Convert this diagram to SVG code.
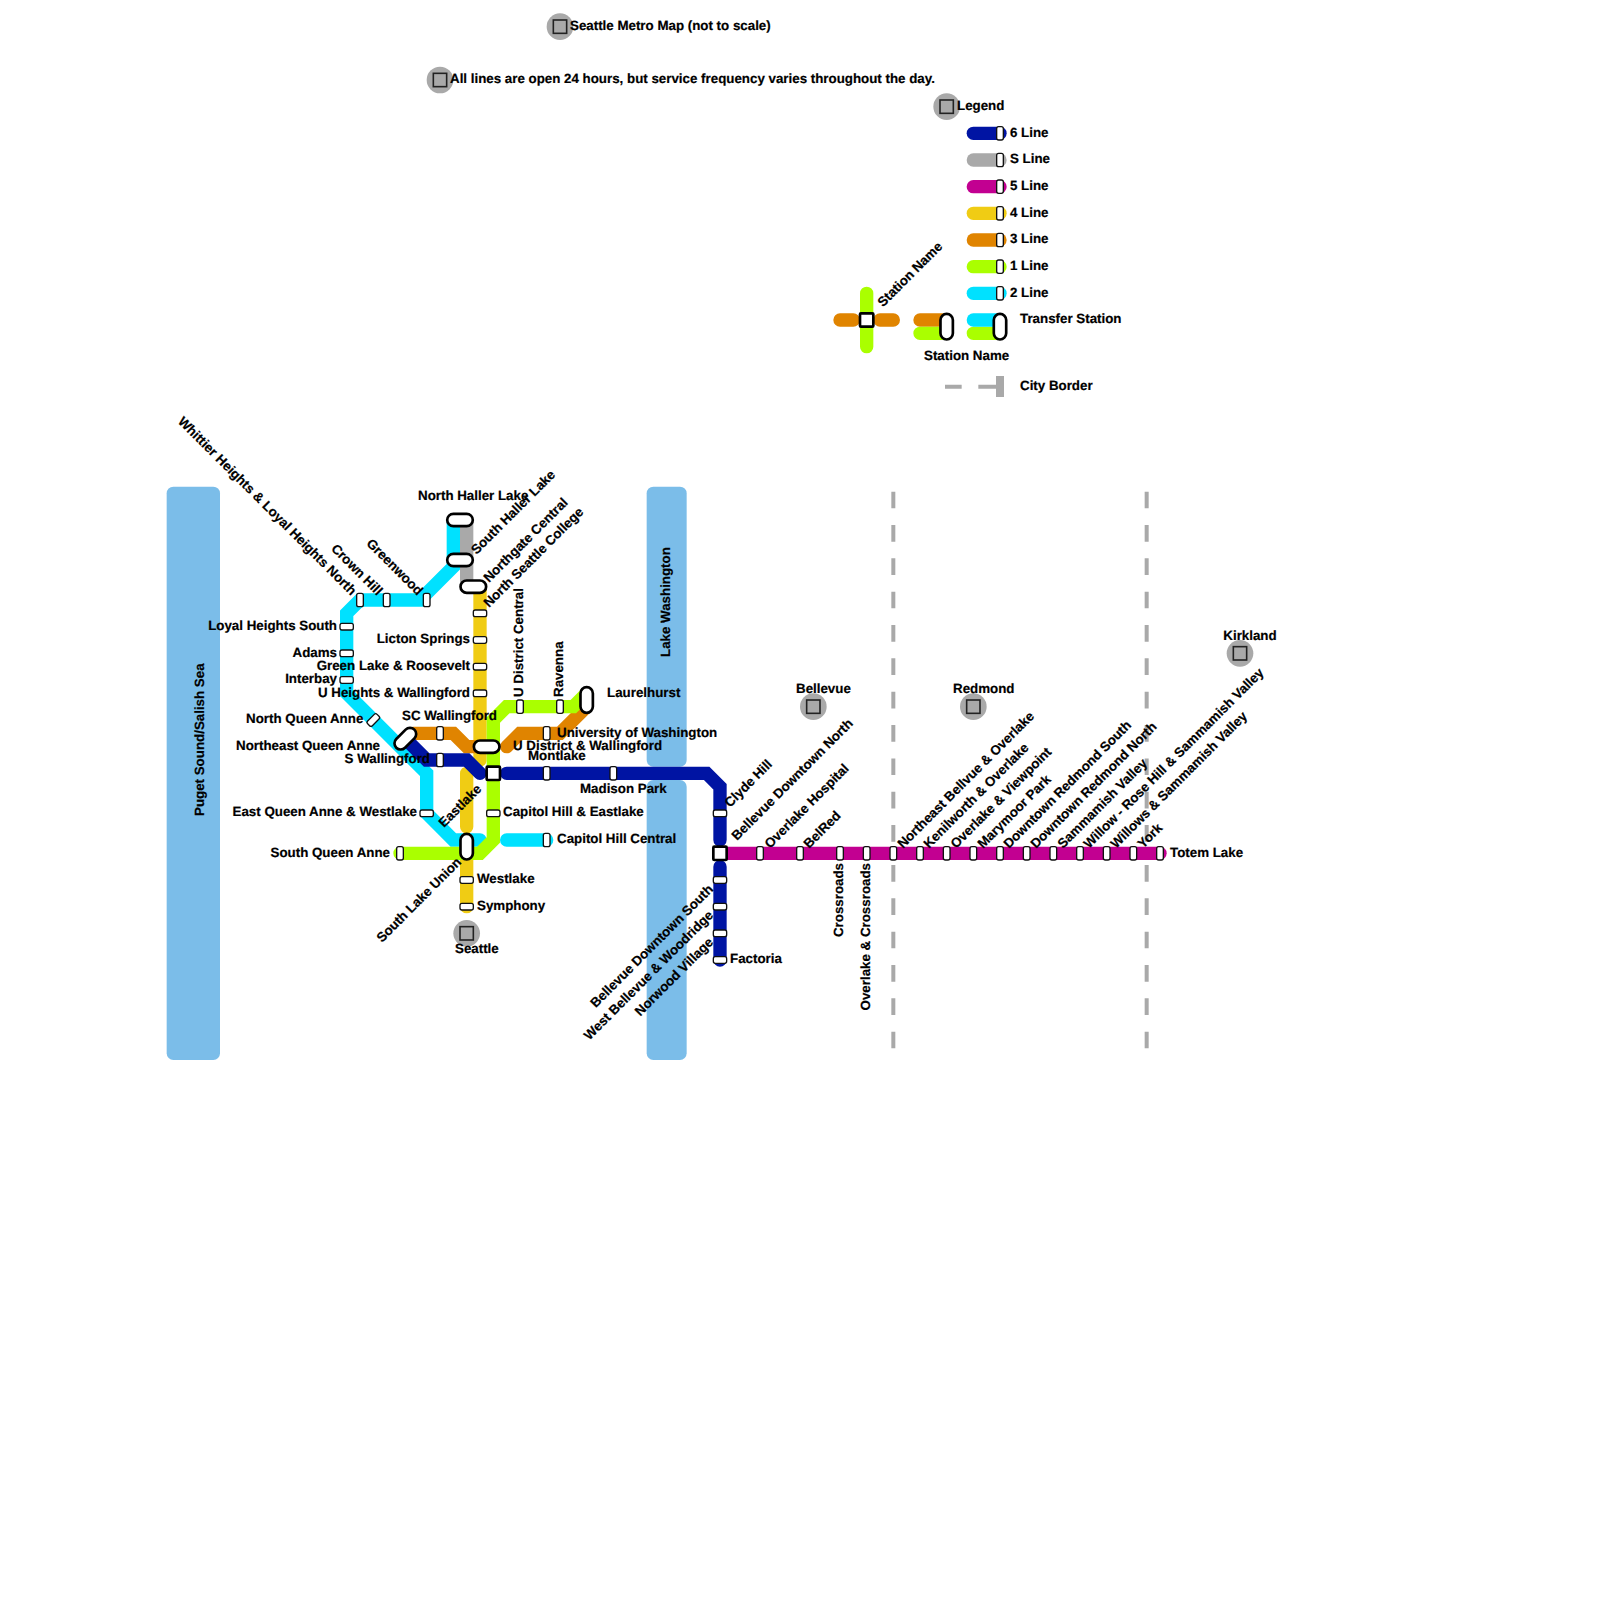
<svg xmlns="http://www.w3.org/2000/svg" width="1600" height="1600" viewBox="0 0 1600 1600">
<style>
text{font-family:"Liberation Sans",Arial,sans-serif;font-weight:bold;font-size:13.33px;fill:#000;stroke:#000;stroke-width:.2;text-rendering:geometricPrecision}
.l{fill:none;stroke-width:13.33;stroke-linecap:round;stroke-linejoin:miter}
.b{stroke:#0014a3}.s{stroke:#a9a9a9}.m{stroke:#c20091}.y{stroke:#f0cc14}.o{stroke:#e08400}.g{stroke:#aaff00}.c{stroke:#00e1ff}
.w{fill:#7bbde9}
.d{stroke:#a9a9a9;stroke-width:4;fill:none}
.st{fill:#fff;stroke:#111;stroke-width:1.33}
.tr{fill:#fff;stroke:#000;stroke-width:2.67}
.ic{fill:#fff;stroke:#000;stroke-width:2.67}
.poi{fill:#a9a9a9}
.pois{fill:#a9a9a9;stroke:#222;stroke-width:1.6}
</style>
<defs>
<rect id="v" class="st" x="-3.33" y="-6.67" width="6.67" height="13.33" rx="2"/>
<rect id="h" class="st" x="-6.67" y="-3.33" width="13.33" height="6.67" rx="2"/>
<rect id="tv" class="tr" x="-6.2" y="-12.8" width="12.4" height="25.6" rx="6.2"/>
<rect id="th" class="tr" x="-12.8" y="-6.2" width="25.6" height="12.4" rx="6.2"/>
<rect id="sq" class="ic" x="-6.67" y="-6.67" width="13.33" height="13.33" rx="1"/>
<g id="p"><circle class="poi" r="13.33"/><rect class="pois" x="-6.67" y="-6.67" width="13.33" height="13.33"/></g>
</defs>
<g id="water">
<rect class="w" x="166.67" y="486.67" width="53.33" height="573.33" rx="6.67"/>
<rect class="w" x="646.67" y="486.67" width="40" height="280" rx="6.67"/>
<rect class="w" x="646.67" y="780" width="40" height="280" rx="6.67"/>
</g>
<g id="connectors">
<path class="d" stroke-dasharray="16.67 16.67" d="M893.33 491.67V845M893.33 865V1048.33M1146.67 491.67V845M1146.67 865V1048.33"/>
<path class="d" d="M945 386.67H961.67M978.33 386.67H996"/>
<path class="s l" d="M466.67 520V586.67" stroke-linecap="butt"/>
<path class="c l" d="M453.33 520V566.67L420 600H360L346.67 613.33V693.33L426.67 773.33V813.33L453.33 840H480M506.67 840H546.67"/>
<path class="y l" d="M480 586.67V760M466.67 773.33V826.67M466.67 860V906.67"/>
<path class="o l" d="M413.33 733.33H453.33L466.67 746.67H480M506.67 746.67L520 733.33H560L586.67 706.67"/>
<path class="g l" d="M400 853.33H480L493.33 840V720L506.67 706.67H573.33L586.67 693.33"/>
<path class="b l" d="M406.67 740L426.67 760H466.67L480 773.33M506.67 773.33H706.67L720 786.67V840M720 866.67V960"/>
<path class="m l" d="M720 853.33H1160"/>
<path class="b l" d="M973.33 133.33H1000"/><path class="s l" d="M973.33 160H1000"/><path class="m l" d="M973.33 186.67H1000"/><path class="y l" d="M973.33 213.33H1000"/><path class="o l" d="M973.33 240H1000"/><path class="g l" d="M973.33 266.67H1000"/><path class="c l" d="M973.33 293.33H1000"/>
<path class="o l" d="M840 320H853.33M880 320H893.33M920 320H946.67"/>
<path class="g l" d="M866.67 293.33V346.67M920 333.33H946.67M973.33 333.33H1000"/>
<path class="c l" d="M973.33 320H1000"/>
<rect x="996" y="376" width="8" height="21" fill="#a9a9a9"/>
</g>
<g id="stations">
<use href="#v" x="360" y="600"/><use href="#v" x="386.67" y="600"/><use href="#v" x="426.67" y="600"/>
<use href="#h" x="346.67" y="626.67"/><use href="#h" x="346.67" y="653.33"/><use href="#h" x="346.67" y="680"/>
<use href="#h" transform="translate(373.33 720) rotate(-45)"/>
<use href="#th" transform="translate(405.33 738.67) rotate(-45)"/>
<use href="#h" x="426.67" y="813.33"/>
<use href="#v" x="400" y="853.33"/>
<use href="#tv" x="466.67" y="846.67"/>
<use href="#h" x="466.67" y="880"/><use href="#h" x="466.67" y="906.67"/>
<use href="#th" x="460" y="520"/><use href="#th" x="460" y="560"/><use href="#th" x="473.33" y="586.67"/>
<use href="#h" x="480" y="613.33"/><use href="#h" x="480" y="640"/><use href="#h" x="480" y="666.67"/><use href="#h" x="480" y="693.33"/>
<use href="#v" x="520" y="706.67"/><use href="#v" x="560" y="706.67"/>
<use href="#tv" x="586.67" y="700"/>
<use href="#v" x="440" y="733.33"/><use href="#v" x="546.67" y="733.33"/>
<use href="#th" x="486.67" y="746.67"/>
<use href="#v" x="440" y="760"/>
<use href="#sq" x="493.33" y="773.33"/>
<use href="#v" x="546.67" y="773.33"/><use href="#v" x="613.33" y="773.33"/>
<use href="#h" x="493.33" y="813.33"/>
<use href="#v" x="546.67" y="840"/>
<use href="#h" x="720" y="813.33"/>
<use href="#sq" x="720" y="853.33"/>
<use href="#h" x="720" y="880"/><use href="#h" x="720" y="906.67"/><use href="#h" x="720" y="933.33"/><use href="#h" x="720" y="960"/>
<use href="#v" x="760" y="853.33"/><use href="#v" x="800" y="853.33"/><use href="#v" x="840" y="853.33"/><use href="#v" x="866.67" y="853.33"/><use href="#v" x="893.33" y="853.33"/><use href="#v" x="920" y="853.33"/><use href="#v" x="946.67" y="853.33"/><use href="#v" x="973.33" y="853.33"/><use href="#v" x="1000" y="853.33"/><use href="#v" x="1026.67" y="853.33"/><use href="#v" x="1053.33" y="853.33"/><use href="#v" x="1080" y="853.33"/><use href="#v" x="1106.67" y="853.33"/><use href="#v" x="1133.33" y="853.33"/><use href="#v" x="1160" y="853.33"/>
<use href="#v" x="1000" y="133.33"/><use href="#v" x="1000" y="160"/><use href="#v" x="1000" y="186.67"/><use href="#v" x="1000" y="213.33"/><use href="#v" x="1000" y="240"/><use href="#v" x="1000" y="266.67"/><use href="#v" x="1000" y="293.33"/>
<use href="#sq" x="866.67" y="320"/><use href="#tv" x="946.67" y="326.67"/><use href="#tv" x="1000" y="326.67"/>
</g>
<g id="pois">
<use href="#p" x="560" y="26.67"/><use href="#p" x="440" y="80"/><use href="#p" x="946.67" y="106.67"/><use href="#p" x="1240" y="653.33"/><use href="#p" x="813.33" y="706.67"/><use href="#p" x="973.33" y="706.67"/><use href="#p" x="466.67" y="933.33"/>
</g>
<g id="labels">
<text x="570" y="30">Seattle Metro Map (not to scale)</text>
<text x="450" y="83.33">All lines are open 24 hours, but service frequency varies throughout the day.</text>
<text x="957" y="110">Legend</text>
<text x="1010" y="136.67">6 Line</text><text x="1010" y="163.33">S Line</text><text x="1010" y="190">5 Line</text><text x="1010" y="216.67">4 Line</text><text x="1010" y="243.33">3 Line</text><text x="1010" y="270">1 Line</text><text x="1010" y="296.67">2 Line</text>
<text x="1020" y="323.33">Transfer Station</text>
<text x="924" y="360">Station Name</text>
<text x="1020" y="390">City Border</text>
<text transform="translate(883 307.5) rotate(-45)">Station Name</text>
<text x="1223.33" y="640">Kirkland</text><text x="796" y="693.33">Bellevue</text><text x="953" y="693.33">Redmond</text><text x="455" y="953.33">Seattle</text>
<text x="337" y="630" text-anchor="end">Loyal Heights South</text>
<text x="337" y="656.67" text-anchor="end">Adams</text>
<text x="337" y="683.33" text-anchor="end">Interbay</text>
<text x="470" y="670" text-anchor="end">Green Lake &amp; Roosevelt</text>
<text x="470" y="696.67" text-anchor="end">U Heights &amp; Wallingford</text>
<text x="470" y="643.33" text-anchor="end">Licton Springs</text>
<text x="363.33" y="723.33" text-anchor="end">North Queen Anne</text>
<text x="380" y="750" text-anchor="end">Northeast Queen Anne</text>
<text x="430" y="763.33" text-anchor="end">S Wallingford</text>
<text x="417" y="816" text-anchor="end">East Queen Anne &amp; Westlake</text>
<text x="390" y="856.67" text-anchor="end">South Queen Anne</text>
<text x="402" y="720">SC Wallingford</text>
<text x="418" y="500">North Haller Lake</text>
<text x="607" y="696.67">Laurelhurst</text>
<text x="557" y="736.67">University of Washington</text>
<text x="513" y="750">U District &amp; Wallingford</text>
<text x="528" y="760">Montlake</text>
<text x="580" y="793.33">Madison Park</text>
<text x="503" y="816">Capitol Hill &amp; Eastlake</text>
<text x="557" y="843.33">Capitol Hill Central</text>
<text x="477" y="883.33">Westlake</text>
<text x="477" y="909.5">Symphony</text>
<text x="730" y="963.33">Factoria</text>
<text x="1170" y="856.67">Totem Lake</text>
<text transform="translate(351 596) rotate(45)" text-anchor="end">Whittier Heights &amp; Loyal Heights North</text>
<text transform="translate(377 596) rotate(45)" text-anchor="end">Crown Hill</text>
<text transform="translate(417.5 596) rotate(45)" text-anchor="end">Greenwood</text>
<text transform="translate(476.5 555) rotate(-45)">South Haller Lake</text>
<text transform="translate(489 583) rotate(-45)">Northgate Central</text>
<text transform="translate(489 608) rotate(-45)">North Seattle College</text>
<text transform="translate(523 697) rotate(-90)">U District Central</text>
<text transform="translate(563 697) rotate(-90)">Ravenna</text>
<text transform="translate(444 828) rotate(-45)">Eastlake</text>
<text transform="translate(462 863) rotate(-45)" text-anchor="end">South Lake Union</text>
<text transform="translate(730 808) rotate(-45)">Clyde Hill</text>
<text transform="translate(737 841) rotate(-45)">Bellevue Downtown North</text>
<text transform="translate(770 849) rotate(-45)">Overlake Hospital</text>
<text transform="translate(809 849) rotate(-45)">BelRed</text>
<text transform="translate(842.5 863) rotate(-90)" text-anchor="end">Crossroads</text>
<text transform="translate(869.5 863) rotate(-90)" text-anchor="end">Overlake &amp; Crossroads</text>
<text transform="translate(903 849) rotate(-45)">Northeast Bellvue &amp; Overlake</text>
<text transform="translate(929 849) rotate(-45)">Kenilworth &amp; Overlake</text>
<text transform="translate(956 849) rotate(-45)">Overlake &amp; Viewpoint</text>
<text transform="translate(983 849) rotate(-45)">Marymoor Park</text>
<text transform="translate(1009 849) rotate(-45)">Downtown Redmond South</text>
<text transform="translate(1036 849) rotate(-45)">Downtown Redmond North</text>
<text transform="translate(1063 849) rotate(-45)">Sammamish Valley</text>
<text transform="translate(1089 849) rotate(-45)">Willow - Rose Hill &amp; Sammamish Valley</text>
<text transform="translate(1116 849) rotate(-45)">Willows &amp; Sammamish Valley</text>
<text transform="translate(1143 849) rotate(-45)">York</text>
<text transform="translate(714 890) rotate(-45)" text-anchor="end">Bellevue Downtown South</text>
<text transform="translate(714 916) rotate(-45)" text-anchor="end">West Bellevue &amp; Woodridge</text>
<text transform="translate(714 943) rotate(-45)" text-anchor="end">Norwood Village</text>
<text transform="translate(204 816) rotate(-90)">Puget Sound/Salish Sea</text>
<text transform="translate(670 657) rotate(-90)">Lake Washington</text>
</g>
</svg>
